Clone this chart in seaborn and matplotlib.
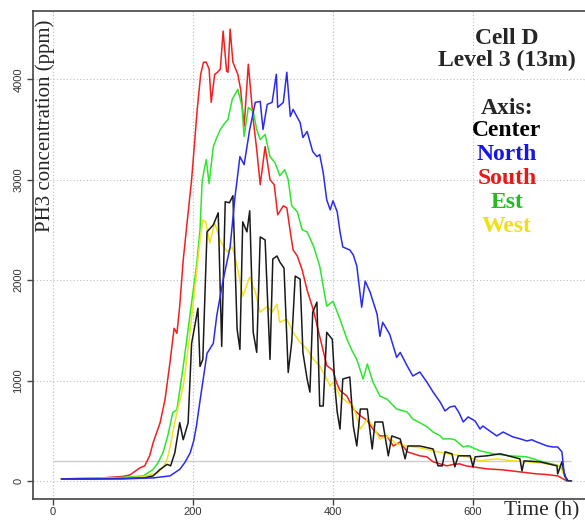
import matplotlib
matplotlib.use("Agg")
import matplotlib.pyplot as plt
import pandas as pd
import seaborn as sns

sns.set_style("ticks")

# time (h) and PH3 concentration (ppm)
t_center = [12, 60, 100, 130, 143, 153, 160, 163, 168, 174, 181, 186, 193, 198, 204, 207,
            210, 214, 220, 229, 236, 241, 246, 252, 257, 263, 267, 271, 277, 281, 286, 291,
            296, 303, 310, 314, 320, 324, 330, 336, 341, 346, 353, 357, 363, 367, 371, 377,
            381, 386, 391, 399, 403, 406, 410, 414, 424, 429, 434, 439, 449, 456, 460, 471,
            479, 484, 496, 503, 507, 524, 543, 550, 556, 560, 570, 574, 579, 596, 600, 603,
            620, 639, 667, 670, 673, 696, 720, 721, 727, 731, 736, 741]
v_center = [20, 20, 25, 30, 50, 115, 150, 165, 150, 280, 580, 410, 580, 1370, 1600, 1720,
            1140, 1210, 2480, 2550, 2670, 1340, 2780, 2770, 2840, 1510, 1310, 2580, 2480, 2690, 1480, 1280,
            2430, 2400, 1210, 2210, 2240, 2180, 2120, 1080, 1380, 2040, 2010, 1280, 1015, 885, 1680, 1780,
            746, 746, 1480, 1410, 915, 686, 517, 1015, 1035, 547, 348, 716, 716, 318, 587, 587,
            250, 448, 418, 220, 348, 348, 318, 150, 150, 290, 270, 140, 250, 250, 140, 240,
            250, 270, 220, 100, 200, 190, 150, 70, 190, 50, 0, 0]

t_north = [12, 60, 100, 143, 167, 181, 188, 196, 201, 205, 209, 213, 220, 229, 234, 243,
           253, 260, 263, 267, 273, 281, 289, 296, 300, 306, 313, 319, 321, 329, 334, 339,
           343, 349, 353, 357, 363, 367, 371, 377, 381, 386, 391, 396, 400, 406, 410, 414,
           424, 429, 434, 441, 446, 453, 463, 467, 471, 481, 491, 496, 506, 514, 524, 534,
           543, 553, 560, 567, 574, 580, 586, 593, 603, 610, 614, 624, 634, 643, 657, 667,
           677, 684, 691, 706, 714, 721, 727, 730, 734]
v_north = [20, 20, 20, 30, 50, 115, 180, 280, 400, 550, 750, 940, 1270, 1370, 1650, 2000,
           2330, 2830, 3000, 3230, 3150, 3500, 3770, 3780, 3500, 3750, 3770, 4050, 3720, 3770, 4070, 3630,
           3700, 3620, 3570, 3420, 3480, 3380, 3280, 3230, 3250, 3070, 2800, 2700, 2790, 2680, 2480, 2330,
           2300, 2250, 2140, 1730, 1990, 1880, 1660, 1440, 1580, 1460, 1230, 1280, 1145, 1045, 1085, 985,
           885, 786, 697, 736, 746, 680, 587, 637, 597, 517, 547, 497, 448, 487, 438, 420,
           398, 410, 388, 348, 338, 338, 290, 90, 0]

t_south = [12, 40, 70, 100, 110, 118, 124, 131, 138, 143, 148, 153, 160, 167, 173, 177,
           181, 186, 193, 198, 206, 211, 215, 219, 223, 226, 231, 235, 239, 243, 248, 250,
           253, 257, 264, 268, 273, 279, 286, 291, 296, 303, 310, 316, 321, 329, 334, 339,
           343, 349, 356, 363, 372, 381, 391, 400, 405, 410, 420, 429, 439, 449, 457, 467,
           477, 486, 496, 506, 515, 524, 534, 543, 553, 563, 572, 581, 590, 600, 610, 620,
           632, 643, 655, 667, 679, 691, 703, 715, 721, 729, 734]
v_south = [20, 25, 30, 45, 60, 100, 130, 150, 250, 380, 480, 580, 810, 1175, 1520, 1470,
           1740, 2200, 2670, 3000, 3700, 4050, 4170, 4170, 4100, 3770, 4050, 4070, 4100, 4480, 4080, 4070,
           4500, 4170, 4050, 3900, 3530, 4150, 3600, 3300, 2950, 3330, 3000, 2950, 2650, 2740, 2720, 2480,
           2300, 2240, 2100, 1900, 1700, 1440, 1150, 1100, 980, 900, 845, 716, 650, 600, 517, 448,
           448, 348, 388, 290, 270, 250, 240, 190, 170, 150, 165, 170, 150, 140, 130, 120,
           115, 110, 100, 90, 80, 70, 65, 55, 50, 20, 0]

t_est = [12, 60, 100, 129, 143, 150, 157, 164, 171, 177, 181, 186, 191, 196, 205, 210,
         213, 216, 219, 223, 226, 229, 234, 239, 245, 250, 256, 260, 264, 270, 273, 279,
         286, 291, 296, 303, 310, 317, 324, 331, 336, 341, 349, 356, 363, 372, 381, 391,
         400, 410, 420, 427, 434, 443, 449, 457, 467, 477, 491, 506, 514, 524, 534, 543,
         553, 557, 567, 574, 586, 593, 610, 629, 653, 677, 700, 724, 729, 734]
v_est = [20, 25, 35, 50, 115, 180, 280, 450, 680, 710, 900, 1140, 1400, 1670, 2140, 2500,
         2980, 3100, 3200, 2960, 3150, 3330, 3420, 3500, 3560, 3600, 3800, 3850, 3900, 3730, 3430, 3720,
         3680, 3500, 3400, 3450, 3230, 3170, 3040, 3100, 3000, 2740, 2680, 2500, 2480, 2340, 2140, 1740,
         1790, 1610, 1410, 1300, 1210, 1015, 1165, 985, 845, 815, 716, 686, 617, 580, 540, 487,
         450, 418, 420, 410, 338, 350, 300, 270, 250, 240, 190, 150, 100, 0]

t_west = [12, 60, 100, 129, 149, 157, 163, 167, 171, 177, 186, 191, 196, 205, 210, 214,
          218, 224, 231, 239, 249, 256, 263, 271, 281, 289, 296, 306, 313, 320, 324, 334,
          343, 353, 363, 372, 381, 391, 396, 400, 410, 420, 429, 439, 449, 457, 467, 477,
          491, 506, 524, 543, 563, 586, 610, 634, 657, 681, 706, 724, 731, 736]
v_west = [20, 25, 30, 40, 80, 130, 215, 330, 480, 680, 940, 1200, 1500, 2070, 2400, 2600,
          2580, 2370, 2570, 2390, 2280, 2330, 2140, 1840, 2030, 1880, 1680, 1740, 1680, 1760, 1580, 1610,
          1480, 1380, 1310, 1210, 1145, 1015, 945, 985, 845, 786, 746, 517, 617, 547, 418, 448,
          368, 348, 330, 300, 270, 250, 200, 220, 200, 190, 170, 150, 40, 0]

series = ["Center", "North", "South", "Est", "West"]
line_colors = {"Center": "#1a1a1a", "North": "#2b2bf0", "South": "#f22020",
               "Est": "#2ee62e", "West": "#f2e21a"}
text_colors = {"Center": "black", "North": "#1515ee", "South": "#ee1515",
               "Est": "#22bb22", "West": "#f0e010"}

frames = []
for name, t, v in [("Center", t_center, v_center), ("North", t_north, v_north),
                   ("South", t_south, v_south), ("Est", t_est, v_est),
                   ("West", t_west, v_west)]:
    frames.append(pd.DataFrame({"time": t, "ppm": v, "axis": name}))
df = pd.concat(frames, ignore_index=True)

fig = plt.figure(figsize=(5.85, 5.2), dpi=100)
ax = fig.add_axes([33 / 585, 21 / 520, 552 / 585, 488 / 520])

ax.set_xlim(-28.6, 760)
ax.set_ylim(-180, 4680)
ax.set_xticks([0, 200, 400, 600])
ax.set_yticks([0, 1000, 2000, 3000, 4000])
ax.grid(True, linestyle=(0, (1, 2)), color="#bdbdbd", linewidth=0.8)
ax.set_axisbelow(True)

ax.hlines(200, 0, 740, color="#cccccc", linewidth=1.0, zorder=1)

# draw back-to-front like the original: South, Est, West, Center, North
order = ["South", "Est", "West", "Center", "North"]
for name in order:
    sns.lineplot(data=df[df["axis"] == name], x="time", y="ppm", color=line_colors[name],
                 estimator=None, sort=False, linewidth=1.1, ax=ax, legend=False, zorder=3)

ax.set_xlabel("")
ax.set_ylabel("")
ax.spines["right"].set_visible(False)
for s in ["left", "bottom", "top"]:
    ax.spines[s].set_color("#444444")
    ax.spines[s].set_linewidth(1.2)
ax.tick_params(axis="both", direction="out", length=4, width=1, color="#444444",
               labelcolor="#333333", labelsize=8)
ax.tick_params(axis="y", pad=3)
ax.tick_params(axis="x", pad=2)
for lab in ax.get_yticklabels():
    lab.set_rotation(90)
    lab.set_va("center")
for lab in ax.get_xticklabels() + ax.get_yticklabels():
    lab.set_fontfamily("Liberation Sans")

fig.text(45 / 585, 1 - 232 / 520, "PH3 concentration (ppm)", rotation=90,
         ha="center", va="bottom", fontsize=15, family="Liberation Serif")
fig.text(542 / 585, 1 - 511 / 520, "Time (h)", ha="center", va="center",
         fontsize=15.5, family="Liberation Serif")

bold = dict(ha="center", va="center", fontsize=17, family="Liberation Serif",
            fontweight="bold")
fig.text(507 / 585, 1 - 38 / 520, "Cell D", **bold)
fig.text(507 / 585, 1 - 60 / 520, "Level 3 (13m)", **bold)
fig.text(507 / 585, 1 - 109 / 520, "Axis:", **bold)
ys = [131, 155, 179, 203, 226]
for name, y in zip(series, ys):
    fig.text(507 / 585, 1 - y / 520, name, color=text_colors[name], **bold)

fig.savefig("out.png", dpi=100)
